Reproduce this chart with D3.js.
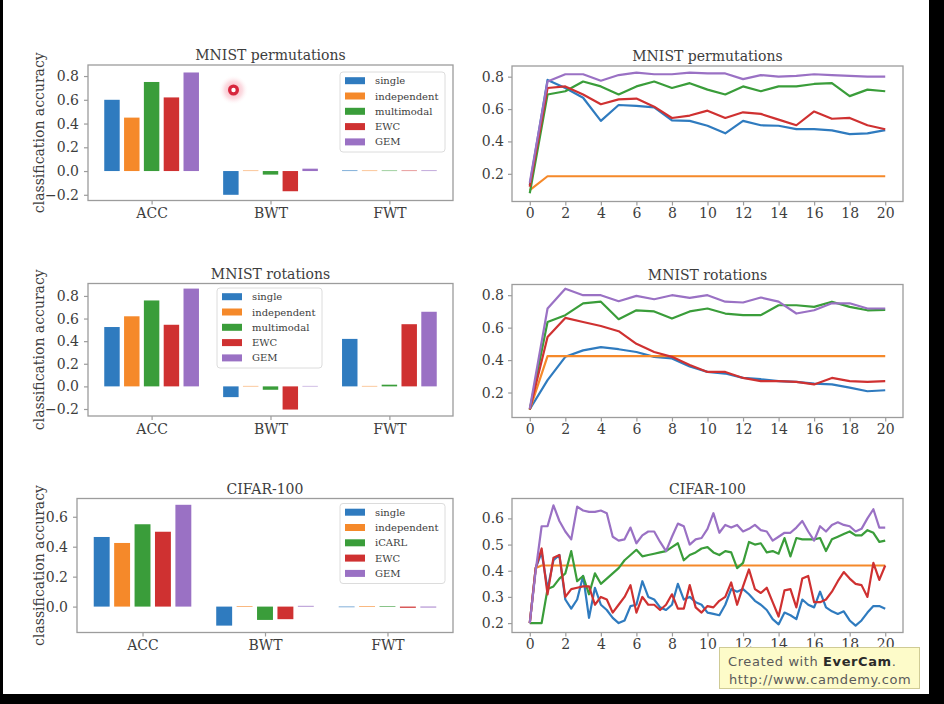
<!DOCTYPE html>
<html><head><meta charset="utf-8">
<script src="https://cdn.jsdelivr.net/npm/d3@7"></script>
<style>
html,body{margin:0;padding:0;background:#fff;}
svg{display:block;}
</style></head>
<body>
<svg id="chart" width="944" height="704"></svg>
<script>
// ---------- data ----------
const methods = ["single", "independent", "multimodal", "EWC", "GEM"];
const methodsCifar = ["single", "independent", "iCARL", "EWC", "GEM"];
const metrics = ["ACC", "BWT", "FWT"];
const colors = ["#2f7bbf", "#f5892a", "#3a9d3a", "#cf3131", "#9a71c4"];

// bar values: rows = methods, columns = ACC, BWT, FWT
const permBars = [
  [0.60, -0.20, 0.005],
  [0.45, 0.004, 0.004],
  [0.75, -0.03, 0.004],
  [0.62, -0.17, 0.004],
  [0.83, 0.02, 0.005]
];
const rotBars = [
  [0.525, -0.095, 0.42],
  [0.62, 0.004, 0.004],
  [0.76, -0.03, 0.015],
  [0.545, -0.205, 0.55],
  [0.865, 0.004, 0.66]
];
const cifarBars = [
  [0.465, -0.127, -0.004],
  [0.425, 0.004, 0.004],
  [0.55, -0.089, 0.004],
  [0.50, -0.084, -0.008],
  [0.68, 0.005, -0.006]
];

// line values over tasks (0..20)
const tasks = [0,1,2,3,4,5,6,7,8,9,10,11,12,13,14,15,16,17,18,19,20];
const permLines = [
  [0.13,0.78,0.73,0.67,0.527,0.625,0.62,0.61,0.53,0.527,0.497,0.45,0.527,0.50,0.497,0.476,0.476,0.468,0.445,0.45,0.47],
  [0.10,0.185,0.185,0.185,0.185,0.185,0.185,0.185,0.185,0.185,0.185,0.185,0.185,0.185,0.185,0.185,0.185,0.185,0.185,0.185,0.185],
  [0.08,0.69,0.71,0.77,0.74,0.69,0.74,0.77,0.73,0.76,0.72,0.69,0.74,0.71,0.74,0.74,0.755,0.76,0.68,0.72,0.71],
  [0.12,0.73,0.74,0.69,0.63,0.66,0.665,0.615,0.545,0.56,0.59,0.545,0.58,0.57,0.535,0.50,0.585,0.54,0.545,0.50,0.475],
  [0.145,0.77,0.815,0.815,0.775,0.81,0.825,0.815,0.815,0.825,0.82,0.82,0.785,0.81,0.80,0.805,0.815,0.81,0.805,0.80,0.80]
];
const rotLines = [
  [0.097,0.276,0.42,0.46,0.48,0.467,0.45,0.42,0.41,0.36,0.327,0.317,0.29,0.282,0.27,0.266,0.255,0.25,0.23,0.208,0.214],
  [0.095,0.424,0.424,0.424,0.424,0.424,0.424,0.424,0.424,0.424,0.424,0.424,0.424,0.424,0.424,0.424,0.424,0.424,0.424,0.424,0.424],
  [0.095,0.635,0.677,0.75,0.76,0.652,0.707,0.70,0.656,0.70,0.718,0.687,0.677,0.677,0.738,0.738,0.728,0.76,0.728,0.707,0.71],
  [0.095,0.543,0.66,0.635,0.61,0.578,0.50,0.45,0.42,0.37,0.327,0.327,0.29,0.27,0.27,0.266,0.25,0.29,0.27,0.266,0.27],
  [0.10,0.718,0.84,0.80,0.80,0.763,0.796,0.775,0.80,0.784,0.80,0.76,0.755,0.786,0.76,0.687,0.707,0.75,0.75,0.718,0.718]
];
// CIFAR-100 evaluated three times per task (steps of 1/3)
const cifarSteps = d3.range(61);
const cifarLines = [
  [0.20,0.41,0.47,0.33,0.44,0.46,0.29,0.255,0.29,0.38,0.22,0.335,0.27,0.25,0.22,0.20,0.21,0.265,0.27,0.36,0.30,0.29,0.26,0.25,0.27,0.35,0.29,0.30,0.28,0.27,0.24,0.235,0.23,0.27,0.33,0.32,0.33,0.31,0.285,0.27,0.25,0.215,0.195,0.24,0.23,0.215,0.29,0.27,0.26,0.32,0.26,0.245,0.235,0.245,0.21,0.19,0.21,0.24,0.265,0.265,0.255],
  [0.20,0.41,0.42,0.42,0.42,0.42,0.42,0.42,0.42,0.42,0.42,0.42,0.42,0.42,0.42,0.42,0.42,0.42,0.42,0.42,0.42,0.42,0.42,0.42,0.42,0.42,0.42,0.42,0.42,0.42,0.42,0.42,0.42,0.42,0.42,0.42,0.42,0.42,0.42,0.42,0.42,0.42,0.42,0.42,0.42,0.42,0.42,0.42,0.42,0.42,0.42,0.42,0.42,0.42,0.42,0.42,0.42,0.42,0.42,0.42,0.42],
  [0.20,0.20,0.20,0.33,0.34,0.37,0.39,0.475,0.36,0.38,0.31,0.39,0.35,0.37,0.39,0.41,0.44,0.46,0.48,0.455,0.46,0.465,0.47,0.475,0.49,0.505,0.44,0.46,0.47,0.485,0.49,0.47,0.46,0.475,0.47,0.41,0.43,0.51,0.50,0.505,0.47,0.475,0.465,0.525,0.455,0.525,0.52,0.52,0.52,0.525,0.475,0.52,0.53,0.54,0.55,0.535,0.535,0.555,0.545,0.51,0.515],
  [0.20,0.41,0.485,0.31,0.45,0.46,0.30,0.33,0.335,0.34,0.34,0.27,0.30,0.29,0.24,0.27,0.30,0.345,0.24,0.30,0.27,0.27,0.25,0.27,0.31,0.255,0.255,0.345,0.26,0.24,0.265,0.26,0.285,0.30,0.355,0.27,0.34,0.405,0.33,0.315,0.335,0.28,0.225,0.325,0.33,0.26,0.37,0.38,0.28,0.28,0.29,0.32,0.36,0.395,0.37,0.35,0.345,0.30,0.43,0.365,0.42],
  [0.20,0.40,0.57,0.57,0.65,0.59,0.55,0.52,0.645,0.63,0.625,0.625,0.63,0.62,0.53,0.515,0.52,0.565,0.505,0.535,0.55,0.55,0.51,0.475,0.53,0.58,0.57,0.50,0.52,0.525,0.56,0.62,0.545,0.575,0.565,0.575,0.55,0.56,0.575,0.555,0.55,0.515,0.53,0.545,0.545,0.565,0.59,0.55,0.515,0.57,0.55,0.575,0.585,0.575,0.57,0.55,0.56,0.60,0.635,0.565,0.565]
];

const barTicks = [-0.2, 0.0, 0.2, 0.4, 0.6, 0.8];
const cifarBarTicks = [0.0, 0.2, 0.4, 0.6];
const lineTicksY = [0.2, 0.4, 0.6, 0.8];
const cifarLineTicksY = [0.2, 0.3, 0.4, 0.5, 0.6];
const taskTicks = [0, 2, 4, 6, 8, 10, 12, 14, 16, 18, 20];

// ---------- drawing ----------
const svg = d3.select("#chart");
const FONT = "DejaVu Serif, serif";
const TXT = "#3d3d3d";
const FRAME = "#9c9c9c";

function frame(g, box) {
  g.append("rect").attr("x", box.l).attr("y", box.t)
    .attr("width", box.r - box.l).attr("height", box.b - box.t)
    .attr("fill", "none").attr("stroke", FRAME).attr("stroke-width", 1.3);
}
function styleAxis(sel) {
  sel.select(".domain").remove();
  sel.selectAll(".tick line").attr("stroke", FRAME).attr("stroke-width", 1.2);
  sel.selectAll(".tick text").attr("fill", TXT).attr("font-family", FONT).attr("font-size", 14);
}
function title(g, box, text) {
  g.append("text").attr("x", (box.l + box.r) / 2).attr("y", box.t - 5)
    .attr("text-anchor", "middle").attr("font-family", FONT).attr("font-size", 14)
    .attr("fill", TXT).text(text);
}
function ylabel(g, box) {
  const cy = (box.t + box.b) / 2;
  g.append("text").attr("transform", `translate(44,${cy}) rotate(-90)`)
    .attr("text-anchor", "middle").attr("font-family", FONT).attr("font-size", 14)
    .attr("fill", TXT).text("classification accuracy");
}

function barPanel(box, ttl, values, names, yDomain, yTicks, leg) {
  const g = svg.append("g");
  const x = d3.scaleLinear().domain([-0.535, 2.535]).range([box.l, box.r]);
  const y = d3.scaleLinear().domain(yDomain).range([box.b, box.t]);
  const step = 1 / 6, bw = 0.13;
  values.forEach((row, i) => {
    g.append("g").selectAll("rect").data(row).join("rect")
      .attr("x", (d, j) => x(j + (i - 2) * step - bw / 2))
      .attr("width", x(bw) - x(0))
      .attr("y", d => y(Math.max(0, d)))
      .attr("height", d => Math.abs(y(d) - y(0)))
      .attr("fill", colors[i]);
  });
  frame(g, box);
  g.append("g").attr("transform", `translate(${box.l},0)`)
    .call(d3.axisLeft(y).tickValues(yTicks).tickFormat(d3.format(".1f")).tickSize(4).tickPadding(5))
    .call(styleAxis);
  g.append("g").attr("transform", `translate(0,${box.b})`)
    .call(d3.axisBottom(x).tickValues([0, 1, 2]).tickFormat(i => metrics[i]).tickSize(4).tickPadding(4))
    .call(styleAxis);
  title(g, box, ttl);
  ylabel(g, box);
  // legend
  const lg = g.append("g").attr("transform", `translate(${leg.x},${leg.y})`);
  lg.append("rect").attr("width", 105).attr("height", 80).attr("rx", 3)
    .attr("fill", "#fff").attr("fill-opacity", 0.85).attr("stroke", "#dcdcdc");
  names.forEach((n, i) => {
    const cy = 8.7 + i * 15.3;
    lg.append("rect").attr("x", 5).attr("y", cy - 3.5).attr("width", 20).attr("height", 7).attr("fill", colors[i]);
    lg.append("text").attr("x", 35).attr("y", cy + 3.5).attr("font-family", FONT)
      .attr("font-size", 10).attr("fill", TXT).text(n);
  });
  return {g, x, y};
}

function linePanel(box, ttl, series, xs, xScaleFn, yDomain, yTicks) {
  const g = svg.append("g");
  const x = d3.scaleLinear().domain([-1, 21]).range([box.l, box.r]);
  const y = d3.scaleLinear().domain(yDomain).range([box.b, box.t]);
  const line = d3.line().x((d, k) => x(xScaleFn(xs[k]))).y(d => y(d));
  series.forEach((s, i) => {
    g.append("path").datum(s).attr("d", line).attr("fill", "none")
      .attr("stroke", colors[i]).attr("stroke-width", 2.2).attr("stroke-linejoin", "round");
  });
  frame(g, box);
  g.append("g").attr("transform", `translate(${box.l},0)`)
    .call(d3.axisLeft(y).tickValues(yTicks).tickFormat(d3.format(".1f")).tickSize(4).tickPadding(4))
    .call(styleAxis);
  g.append("g").attr("transform", `translate(0,${box.b})`)
    .call(d3.axisBottom(x).tickValues(taskTicks).tickFormat(d3.format("d")).tickSize(4).tickPadding(3))
    .call(styleAxis);
  title(g, box, ttl);
}

const P1 = {l: 88, r: 453, t: 65, b: 200.5};
const P3 = {l: 88, r: 453, t: 283.5, b: 416};
const P5 = {l: 77, r: 453, t: 498.5, b: 632.5};
const P2 = {l: 512, r: 903, t: 66, b: 201.5};
const P4 = {l: 512, r: 903, t: 284.5, b: 417.5};
const P6 = {l: 512, r: 903, t: 498.5, b: 632.5};

barPanel(P1, "MNIST permutations", permBars, methods, [-0.248, 0.893], barTicks, {x: 340, y: 72});
barPanel(P3, "MNIST rotations", rotBars, methods, [-0.262, 0.91], barTicks, {x: 217, y: 288});
barPanel(P5, "CIFAR-100", cifarBars, methodsCifar, [-0.173, 0.722], cifarBarTicks, {x: 340, y: 503.5});

linePanel(P2, "MNIST permutations", permLines, tasks, t => t, [0.029, 0.866], lineTicksY);
linePanel(P4, "MNIST rotations", rotLines, tasks, t => t, [0.046, 0.866], lineTicksY);
linePanel(P6, "CIFAR-100", cifarLines, cifarSteps, k => k / 3, [0.164, 0.676], cifarLineTicksY);

// cursor highlight in first panel
const defs = svg.append("defs");
const rg = defs.append("radialGradient").attr("id", "glow");
rg.append("stop").attr("offset", "0%").attr("stop-color", "#f0506a").attr("stop-opacity", 0.55);
rg.append("stop").attr("offset", "60%").attr("stop-color", "#f6a0b0").attr("stop-opacity", 0.35);
rg.append("stop").attr("offset", "100%").attr("stop-color", "#fff").attr("stop-opacity", 0);
svg.append("circle").attr("cx", 233.5).attr("cy", 90).attr("r", 15).attr("fill", "url(#glow)");
svg.append("circle").attr("cx", 233.5).attr("cy", 90).attr("r", 5.5).attr("fill", "#d7263d");
svg.append("circle").attr("cx", 233.5).attr("cy", 90).attr("r", 2.2).attr("fill", "#fff");

// watermark
const wm = svg.append("g");
wm.append("rect").attr("x", 719.5).attr("y", 647.5).attr("width", 200).attr("height", 41)
  .attr("fill", "#fdfbc9").attr("stroke", "#cfcb95");
const t1 = wm.append("text").attr("x", 728).attr("y", 666).attr("font-family", "DejaVu Sans, sans-serif")
  .attr("font-size", 13).attr("fill", "#5a5a5a").attr("letter-spacing", 0.6);
t1.append("tspan").text("Created with ");
t1.append("tspan").attr("font-weight", "bold").attr("fill", "#2a2a2a").text("EverCam");
t1.append("tspan").text(".");
wm.append("text").attr("x", 729).attr("y", 684).attr("font-family", "DejaVu Sans, sans-serif")
  .attr("font-size", 13).attr("fill", "#5a5a5a").attr("letter-spacing", 0.6).text("http://www.camdemy.com");

// video frame borders
svg.append("rect").attr("x", 0).attr("y", 0).attr("width", 3).attr("height", 704).attr("fill", "#000");
svg.append("rect").attr("x", 929).attr("y", 0).attr("width", 15).attr("height", 704).attr("fill", "#000");
svg.append("rect").attr("x", 0).attr("y", 694).attr("width", 944).attr("height", 10).attr("fill", "#000");
</script>
</body></html>
